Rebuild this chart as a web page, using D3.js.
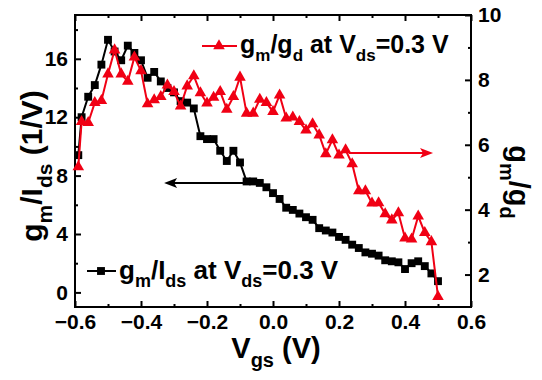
<!DOCTYPE html>
<html><head><meta charset="utf-8">
<script src="https://cdn.jsdelivr.net/npm/d3@7"></script>
<style>body{margin:0;background:#fff}svg{display:block}text{font-family:"Liberation Sans",Arial,sans-serif;font-weight:bold}</style>
</head><body>
<svg id="c" width="542" height="380"></svg>
<script>
const vgs = [-0.59,-0.58,-0.56,-0.54,-0.52,-0.50,-0.48,-0.46,-0.44,-0.42,-0.40,-0.38,-0.36,-0.34,-0.32,-0.30,-0.28,-0.26,-0.24,-0.22,-0.20,-0.18,-0.16,-0.14,-0.12,-0.10,-0.08,-0.06,-0.04,-0.02,0.00,0.02,0.04,0.06,0.08,0.10,0.12,0.14,0.16,0.18,0.20,0.22,0.24,0.26,0.28,0.30,0.32,0.34,0.36,0.38,0.40,0.42,0.44,0.46,0.48,0.50];
const gmIds = [9.4,12.0,13.4,14.2,15.6,17.3,16.5,15.9,16.9,16.4,15.9,14.7,15.1,14.45,14.0,13.7,13.1,13.0,12.6,10.7,10.5,10.5,9.7,9.0,9.7,8.9,7.6,7.6,7.5,7.2,6.8,6.4,5.8,5.65,5.4,5.15,4.97,4.4,4.24,4.1,3.8,3.6,3.27,3.04,2.74,2.65,2.52,2.2,2.13,2.06,1.6,2.0,2.13,1.8,1.3,0.77];
const gmGd = [5.32,6.71,6.68,7.3,7.36,8.18,8.92,8.18,7.95,8.7,8.28,7.26,7.38,7.48,7.84,7.64,7.19,7.81,8.12,7.6,7.28,7.46,7.64,7.09,7.48,8.08,6.97,6.97,7.4,7.3,7.02,7.53,6.82,6.85,6.71,6.45,6.64,6.3,5.72,6.15,5.68,5.84,5.41,4.58,4.58,4.2,4.21,3.87,3.68,3.9,3.12,3.09,3.8,3.29,3.01,1.32];
const xTicks = [-0.6,-0.4,-0.2,0.0,0.2,0.4,0.6];
const xMinor = [-0.5,-0.3,-0.1,0.1,0.3,0.5];
const yLTicks = [0,4,8,12,16];
const yLMinor = [2,6,10,14,18];
const yRTicks = [2,4,6,8,10];
const yRMinor = [3,5,7,9];

const RED = "#f00014";
const L=75,R=471,T=15,B=307;
const svg = d3.select("#c");
const x = d3.scaleLinear().domain([-0.6,0.6]).range([L,R]);
const yL = d3.scaleLinear().domain([-1,19]).range([B,T]);
const yR = d3.scaleLinear().domain([1,10]).range([B,T]);

function styleAxis(g){
  g.select(".domain").remove();
  g.selectAll(".tick line").attr("stroke","#000").attr("stroke-width",2);
  g.selectAll(".tick text").attr("fill","#000").style("font-size","21px").style("font-weight","bold").style("font-family",'"Liberation Sans",Arial,sans-serif');
}
// bottom
svg.append("g").attr("transform",`translate(0,${B})`).call(d3.axisBottom(x).tickValues(xTicks).tickSize(-6).tickPadding(7).tickFormat(d3.format(".1f"))).call(styleAxis);
svg.append("g").attr("transform",`translate(0,${B})`).call(d3.axisBottom(x).tickValues(xMinor).tickSize(-3).tickFormat("")).call(styleAxis);
// top
svg.append("g").attr("transform",`translate(0,${T})`).call(d3.axisTop(x).tickValues(xTicks).tickSize(-6).tickFormat("")).call(styleAxis);
svg.append("g").attr("transform",`translate(0,${T})`).call(d3.axisTop(x).tickValues(xMinor).tickSize(-3).tickFormat("")).call(styleAxis);
// left
svg.append("g").attr("transform",`translate(${L},0)`).call(d3.axisLeft(yL).tickValues(yLTicks).tickSize(-6).tickPadding(7).tickFormat(d3.format("d"))).call(styleAxis);
svg.append("g").attr("transform",`translate(${L},0)`).call(d3.axisLeft(yL).tickValues(yLMinor).tickSize(-3).tickFormat("")).call(styleAxis);
// right
svg.append("g").attr("transform",`translate(${R},0)`).call(d3.axisRight(yR).tickValues(yRTicks).tickSize(-6).tickPadding(7).tickFormat(d3.format("d"))).call(styleAxis);
svg.append("g").attr("transform",`translate(${R},0)`).call(d3.axisRight(yR).tickValues(yRMinor).tickSize(-3).tickFormat("")).call(styleAxis);

svg.append("rect").attr("x",L).attr("y",T).attr("width",R-L).attr("height",B-T).attr("fill","none").attr("stroke","#000").attr("stroke-width",2);

const sq = d3.symbol().type(d3.symbolSquare).size(62);
const tri = d3.symbol().type(d3.symbolTriangle).size(58);

// black series
const blk = vgs.map((v,i)=>[v,gmIds[i]]);
svg.append("path").datum(blk).attr("fill","none").attr("stroke","#000").attr("stroke-width",2)
  .attr("d",d3.line().x(d=>x(d[0])).y(d=>yL(d[1])));
svg.append("g").selectAll("path").data(blk).join("path").attr("d",sq).attr("fill","#000")
  .attr("transform",d=>`translate(${x(d[0])},${yL(d[1])})`);
// red series
const red = vgs.map((v,i)=>[v,gmGd[i]]);
svg.append("path").datum(red).attr("fill","none").attr("stroke",RED).attr("stroke-width",2)
  .attr("d",d3.line().x(d=>x(d[0])).y(d=>yR(d[1])));
svg.append("g").selectAll("path").data(red).join("path").attr("d",tri).attr("fill",RED)
  .attr("transform",d=>`translate(${x(d[0])},${yR(d[1])})`);

// arrows
function arrow(x1,x2,y,color){
  const d = Math.sign(x2-x1);
  svg.append("line").attr("x1",x1).attr("x2",x2 - d*8).attr("y1",y).attr("y2",y).attr("stroke",color).attr("stroke-width",2);
  svg.append("path").attr("d",`M${x2},${y} L${x2-d*13},${y-5} L${x2-d*10},${y} L${x2-d*13},${y+5} Z`).attr("fill",color);
}
arrow(x(-0.08),x(-0.33),yL(7.5),"#000");
arrow(x(0.23),x(0.485),yR(5.75),RED);

function richText(g, segs, size, subSize, anchor){
  const t = g.append("text").attr("fill","#000").style("font-size",size+"px").attr("text-anchor",anchor||"start");
  let down=false;
  segs.forEach(s=>{
    const isSub = s[1]===1;
    const ts = t.append("tspan").text(s[0]);
    if(isSub){ ts.style("font-size",subSize+"px"); if(!down){ts.attr("dy",size*0.32);down=true;} }
    else { ts.style("font-size",size+"px"); if(down){ts.attr("dy",-size*0.32);down=false;} }
  });
  return t;
}

// legends
const lg1 = svg.append("g");
lg1.append("line").attr("x1",202).attr("x2",237).attr("y1",46).attr("y2",46).attr("stroke",RED).attr("stroke-width",2);
lg1.append("path").attr("d",tri).attr("fill",RED).attr("transform","translate(219,46)");
richText(lg1.append("g").attr("transform","translate(240,53)"),[["g",0],["m",1],["/g",0],["d",1],[" at V",0],["ds",1],["=0.3 V",0]],25,17);

const lg2 = svg.append("g");
lg2.append("line").attr("x1",87).attr("x2",116).attr("y1",271).attr("y2",271).attr("stroke","#000").attr("stroke-width",2);
lg2.append("path").attr("d",sq).attr("fill","#000").attr("transform","translate(101,271)");
richText(lg2.append("g").attr("transform","translate(119,279)"),[["g",0],["m",1],["/I",0],["ds",1],[" at V",0],["ds",1],["=0.3 V",0]],26,18);

// axis titles
richText(svg.append("g").attr("transform","translate(276,358)"),[["V",0],["gs",1],[" (V)",0]],29,20,"middle");
richText(svg.append("g").attr("transform","translate(42,166) rotate(-90)"),[["g",0],["m",1],["/I",0],["ds",1],[" (1/V)",0]],30,21,"middle");
richText(svg.append("g").attr("transform","translate(509,182) rotate(90)"),[["g",0],["m",1],["/g",0],["d",1]],29,20,"middle");
</script>
</body></html>
